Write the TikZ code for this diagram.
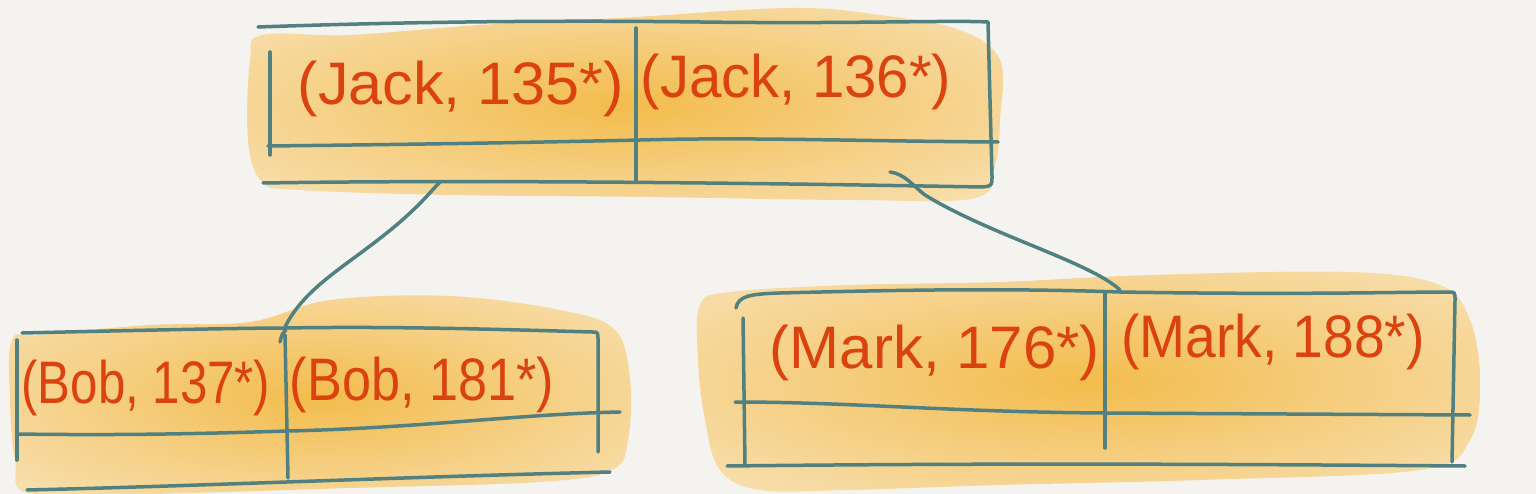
\documentclass[tikz,border=0pt]{standalone}
\usepackage{fontspec}
\setmainfont{Liberation Sans}
\definecolor{bgc}{RGB}{244,243,239}
\definecolor{linec}{RGB}{80,128,128}
\definecolor{txtc}{RGB}{218,66,16}
\definecolor{deepc}{RGB}{243,188,76}
\definecolor{midc}{RGB}{245,205,125}
\definecolor{palec}{RGB}{248,226,182}
\pgfdeclareradialshading{wc}{\pgfpoint{0bp}{0bp}}{color(0bp)=(deepc); color(16bp)=(midc); color(36bp)=(palec); color(50bp)=(palec)}
\tikzset{
  ln/.style={draw=linec, line width=3.5pt, line cap=round, line join=round},
  lbl/.style={text=txtc, font=\fontsize{60}{72}\selectfont, inner sep=0pt, anchor=base},
  wash/.style={shading=wc, draw=none}
}
\begin{document}
\begin{tikzpicture}[x=1pt,y=-1pt]
\useasboundingbox (0,0) rectangle (1536,494);
\fill[bgc] (0,0) rectangle (1536,494);
% watercolor washes
\shade[wash] plot[smooth cycle, tension=0.6] coordinates {(250,60) (262,35) (350,35) (480,25) (620,18) (790,8) (880,15) (960,30) (1000,60) (1000,120) (995,165) (975,198) (850,200) (650,197) (450,195) (300,190) (262,182) (248,140)};
\shade[wash] plot[smooth cycle, tension=0.6] coordinates {(12,340) (40,335) (150,325) (250,322) (330,300) (450,296) (560,310) (615,330) (630,380) (628,440) (612,470) (540,482) (350,488) (150,494) (30,494) (15,460) (10,400)};
\shade[wash] plot[smooth cycle, tension=0.6] coordinates {(700,305) (730,292) (850,285) (1000,282) (1150,275) (1350,272) (1440,285) (1470,320) (1480,380) (1470,440) (1420,470) (1200,480) (1000,485) (850,490) (760,490) (720,470) (705,420) (698,360)};
% top box
\draw[ln] (258,27) .. controls (400,22) and (550,20) .. (700,22) .. controls (850,24) and (950,20) .. (988,22) -- (990,100) -- (992,176) .. controls (992,186) .. (982,187) .. controls (700,182) and (450,180) .. (263,183);
\draw[ln] (270,52) -- (270,155);
\draw[ln] (636,28) -- (636,180);
\draw[ln] (268,146) .. controls (450,144) and (550,142) .. (640,140) .. controls (750,137) and (850,141) .. (998,142);
% bottom-left box
\draw[ln] (22,333) .. controls (150,330) and (250,328) .. (285,328) .. controls (400,326) and (520,330) .. (592,332) .. controls (598,332) .. (598,340) -- (598,452);
\draw[ln] (17,340) -- (17,460);
\draw[ln] (280,342) .. controls (282,334) .. (286,330) (285,335) -- (288,478);
\draw[ln] (17,434) .. controls (150,436) and (250,432) .. (288,431) .. controls (420,428) and (520,414) .. (620,412);
\draw[ln] (27,490) .. controls (200,486) and (400,477) .. (610,472);
% bottom-right box
\draw[ln] (736,308) .. controls (738,296) and (750,294) .. (780,293) .. controls (900,290) and (1000,288) .. (1120,292) .. controls (1300,295) and (1400,292) .. (1448,292) .. controls (1455,292) .. (1455,300) -- (1452,462);
\draw[ln] (743,318) -- (745,465);
\draw[ln] (1105,292) -- (1105,448);
\draw[ln] (735,402) .. controls (850,402) and (950,412) .. (1105,413) -- (1470,415);
\draw[ln] (727,466) .. controls (1000,463) and (1200,464) .. (1465,466);
% connectors
\coordinate (tL) at (440,182);
\coordinate (bL) at (284,329);
\coordinate (tR) at (890,172);
\coordinate (bR) at (1120,290);
\draw[ln] (tL) .. controls (430,192) and (425,200) .. (400,222) .. controls (350,265) and (305,285) .. (bL);
\draw[ln] (tR) .. controls (905,174) and (912,185) .. (925,195) .. controls (990,235) and (1090,262) .. (bR);
% labels
\node[lbl] (j1) at (461,105) {\scalebox{1.02}[1]{(Jack, 135*)}};
\node[lbl] (j2) at (796,98) {\scalebox{0.97}[1]{(Jack, 136*)}};
\node[lbl] (b1) at (146,403) {\scalebox{0.82}[1]{(Bob, 137*)}};
\node[lbl] (b2) at (422,400) {\scalebox{0.87}[1]{(Bob, 181*)}};
\node[lbl] (m1) at (935,368) {(Mark, 176*)};
\node[lbl] (m2) at (1273,357) {\scalebox{0.92}[1]{(Mark, 188*)}};
\end{tikzpicture}
\end{document}
